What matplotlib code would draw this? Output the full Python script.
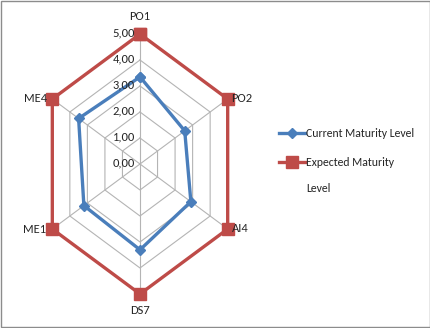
import numpy as np
import matplotlib
matplotlib.use("Agg")
import matplotlib.pyplot as plt
from matplotlib.lines import Line2D
from matplotlib.patches import Rectangle

plt.rcParams['font.family'] = ['Carlito', 'Lato', 'DejaVu Sans']

categories = ['PO1', 'PO2', 'AI4', 'DS7', 'ME1', 'ME4']
current = [3.35, 2.55, 2.9, 3.3, 3.2, 3.5]
expected = [5.0, 5.0, 5.0, 5.0, 5.0, 5.0]
rings = [0, 1, 2, 3, 4, 5]
ring_labels = ['0,00', '1,00', '2,00', '3,00', '4,00', '5,00']
series_names = ['Current Maturity Level', 'Expected Maturity', 'Level']

blue = '#4A7EBB'
red = '#BE4B48'
grid = '#B4B4B4'
txt = '#262626'

ang = np.arange(len(categories)) * 2 * np.pi / len(categories)
sx, cy = np.sin(ang), np.cos(ang)

def xy(vals):
    v = np.asarray(vals, float)
    x, y = v * sx, v * cy
    return np.append(x, x[0]), np.append(y, y[0])

fig = plt.figure(figsize=(4.31, 3.28), dpi=100)
fig.patches.append(Rectangle((0.0015, 0.002), 0.996, 0.995, transform=fig.transFigure,
                             fill=False, ec='#8C8C8C', lw=1.0))
ax = fig.add_axes([18.5 / 431, 8 / 328, 243 / 431, 312 / 328])
ax.set_xlim(-6, 6)
ax.set_ylim(-6, 6)
ax.axis('off')

# grid rings and spokes
for r in rings[1:]:
    gx, gy = xy([r] * len(categories))
    ax.plot(gx, gy, color=grid, lw=0.8, zorder=1)
for i in range(len(categories)):
    ax.plot([0, 5 * sx[i]], [0, 5 * cy[i]], color=grid, lw=0.8, zorder=1)

ex, ey = xy(expected)
ax.plot(ex, ey, color=red, lw=2.4, marker='s', ms=8, zorder=3)
cx_, cy_ = xy(current)
ax.plot(cx_, cy_, color=blue, lw=2.4, marker='D', ms=5, zorder=4)

for r, lab in zip(rings, ring_labels):
    ax.annotate(lab, (0, r), xytext=(-5, 1), textcoords='offset pixels',
                ha='right', va='center', fontsize=9, color=txt, zorder=5)

offsets = [(0, 17, 'center'), (3, 0, 'left'), (4, 0, 'left'),
           (0, -17, 'center'), (-6, 0, 'right'), (-5, 0, 'right')]
for i, lab in enumerate(categories):
    dx, dy, ha = offsets[i]
    ax.annotate(lab, (5 * sx[i], 5 * cy[i]), xytext=(dx, dy), textcoords='offset pixels',
                ha=ha, va='center', fontsize=9, color=txt, zorder=6)

# legend (second label wraps onto a line of its own)
handles = [Line2D([], [], color=blue, lw=2.4, marker='D', ms=5),
           Line2D([], [], color=red, lw=2.4, marker='s', ms=8)]
leg = fig.legend(handles, series_names[:2], loc='upper left',
                 bbox_to_anchor=(279 / 431, 1 - 128 / 328),
                 frameon=False, fontsize=8.5, handlelength=2.2, handletextpad=0.1,
                 labelspacing=1.52, borderaxespad=0, borderpad=0)
for t in leg.get_texts():
    t.set_color(txt)
fig.canvas.draw()
bb = leg.get_texts()[1].get_window_extent()
fig.text(bb.x0 / fig.bbox.width, (bb.y0 - 15) / fig.bbox.height, series_names[2],
         fontsize=8.5, color=txt, ha='left', va='top')

fig.savefig('out.png', dpi=100)
